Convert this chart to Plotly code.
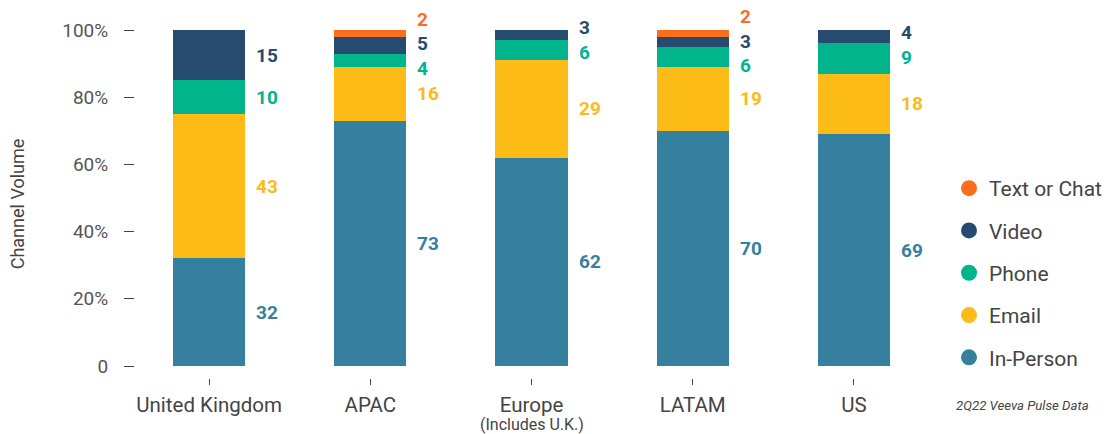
import plotly.graph_objects as go

categories = ["United Kingdom", "APAC", "Europe", "LATAM", "US"]
europe_note = "(Includes U.K.)"
in_person = [32, 73, 62, 70, 69]
email = [43, 16, 29, 19, 18]
phone = [10, 4, 6, 6, 9]
video = [15, 5, 3, 3, 4]
text_chat = [0, 2, 0, 2, 0]

series_names = ["In-Person", "Email", "Phone", "Video", "Text or Chat"]
series_values = [in_person, email, phone, video, text_chat]
colors = ["#36809F", "#FCBB16", "#00B48C", "#264B6F", "#FA6E1E"]

y_ticks = [0, 20, 40, 60, 80, 100]
y_tick_text = ["0", "20%", "40%", "60%", "80%", "100%"]

FONT = "Roboto"
Y_MIN, Y_MAX = -3.57, 100
fig = go.Figure()

for name, vals, col in zip(series_names, series_values, colors):
    fig.add_trace(go.Bar(x=categories, y=vals, name=name, marker_color=col,
                         marker_line_width=0, width=0.447, showlegend=False))

for name, col in reversed(list(zip(series_names, colors))):
    fig.add_trace(go.Scatter(x=[None], y=[None], mode="markers", name=name,
                             legendgroup=name,
                             marker=dict(symbol="circle", size=18, color=col)))

# value labels, spread apart where segments are thin
MIN_GAP = 7.3
for ci, cat in enumerate(categories):
    items = []
    base = 0
    for si, vals in enumerate(series_values):
        v = vals[ci]
        if v > 0:
            items.append([base + v / 2, v, colors[si]])
        base += v
    clusters = []
    for it in items:
        if clusters and it[0] - (clusters[-1][-1][0]) < MIN_GAP:
            clusters[-1].append(it)
        else:
            clusters.append([it])
    for cl in clusters:
        mean = sum(i[0] for i in cl) / len(cl)
        n = len(cl)
        for k, it in enumerate(cl):
            pos = mean + (k - (n - 1) / 2) * MIN_GAP + (0.8 if n > 1 else 0)
            fig.add_annotation(x=cat, y=(pos - Y_MIN) / (Y_MAX - Y_MIN),
                               xref="x", yref="paper", text=f"<b>{it[1]}</b>",
                               showarrow=False, xanchor="left", yanchor="middle",
                               xshift=45, font=dict(family=FONT, size=19, color=it[2]))

# sub-label under "Europe"
fig.add_annotation(x="Europe", y=(378 - 424) / 348, xref="x", yref="paper",
                   text=europe_note, showarrow=False, xanchor="center", yanchor="middle",
                   font=dict(family=FONT, size=16, color="#444444"))

fig.add_annotation(x=(1091 - 135) / 800, y=(378 - 405) / 348, xref="paper", yref="paper",
                   text="<i>2Q22 Veeva Pulse Data</i>", showarrow=False,
                   xanchor="right", yanchor="middle",
                   font=dict(family=FONT, size=13.2, color="#444444"))

fig.update_layout(
    width=1118, height=434,
    margin=dict(l=135, r=183, t=30, b=56, autoexpand=False),
    barmode="stack",
    plot_bgcolor="white", paper_bgcolor="white",
    font=dict(family=FONT, color="#555555"),
    legend=dict(traceorder="grouped", tracegroupgap=12,
                x=(949 - 135) / 800, xanchor="left", y=(378 - 168) / 348, yanchor="top",
                itemsizing="trace",
                font=dict(family=FONT, size=21, color="#444444")),
    xaxis=dict(range=[-0.4596, 4.503], tickmode="array", tickvals=categories,
               ticks="outside", ticklen=6, tickcolor="#444444",
               ticklabelstandoff=2,
               tickfont=dict(family=FONT, size=20.5, color="#444444"),
               automargin=False,
               showgrid=False, showline=False, zeroline=False),
    yaxis=dict(range=[Y_MIN, Y_MAX], tickmode="array", tickvals=y_ticks,
               ticktext=y_tick_text, ticks="outside", ticklen=10, tickcolor="#444444",
               ticklabelstandoff=12, automargin=False,
               tickfont=dict(family=FONT, size=19, color="#555555"),
               title=dict(text="Channel Volume", standoff=32,
                          font=dict(family=FONT, size=18, color="#444444")),
               showgrid=False, showline=False, zeroline=False),
)

fig.write_html("out.html", config={"displayModeBar": False},
               post_script="document.body.style.margin='0px';document.body.style.overflow='hidden';")
